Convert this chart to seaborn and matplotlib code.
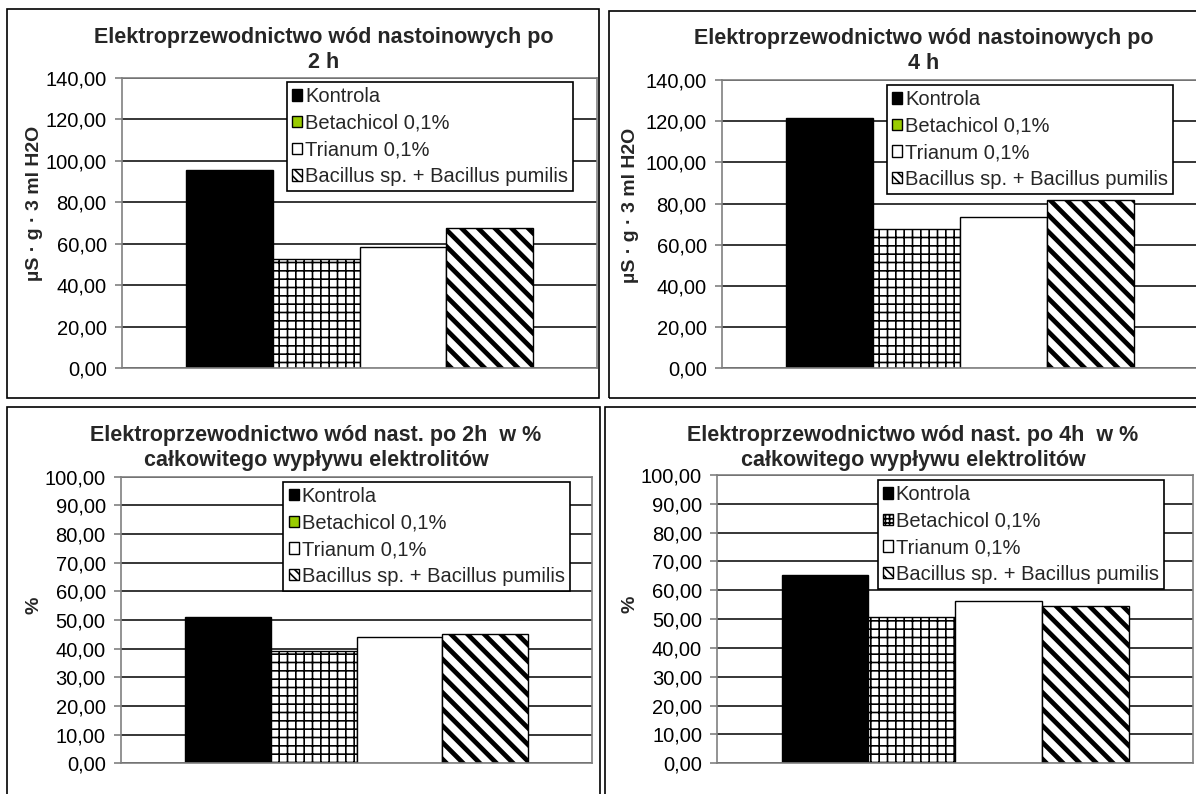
import pandas as pd
import matplotlib
matplotlib.use('Agg')
import matplotlib.pyplot as plt
import seaborn as sns
from matplotlib.patches import Patch, Rectangle
from matplotlib.ticker import FuncFormatter, MultipleLocator

# dane
warianty = ['Kontrola', 'Betachicol 0,1%', 'Trianum 0,1%', 'Bacillus sp. + Bacillus pumilis']
ec_2h = [95.5, 52.5, 58.5, 67.5]
ec_4h = [121.5, 67.5, 73.5, 81.5]
proc_2h = [51.0, 39.2, 43.9, 45.0]
proc_4h = [65.3, 50.7, 56.3, 54.5]

tytuly = ['Elektroprzewodnictwo wód nastoinowych po\n2 h',
          'Elektroprzewodnictwo wód nastoinowych po\n4 h',
          'Elektroprzewodnictwo wód nast. po 2h  w %\ncałkowitego wypływu elektrolitów',
          'Elektroprzewodnictwo wód nast. po 4h  w %\ncałkowitego wypływu elektrolitów']
opisy_y = ['µS · g · 3 ml H2O', 'µS · g · 3 ml H2O', '%', '%']

sns.set_theme(style='white')
plt.rcParams['font.family'] = ['Liberation Sans', 'DejaVu Sans']
plt.rcParams['hatch.linewidth'] = 1.2

W, H = 1196, 794
fig = plt.figure(figsize=(W / 100, H / 100), dpi=100)
fig.patch.set_facecolor('white')

# ramki wykresów (piksele: x0, y0, x1, y1)
ramki = [(7, 9, 599, 398), (609, 11, 1200, 398), (7, 407, 600, 800), (605, 407, 1200, 800)]
for x0, y0, x1, y1 in ramki:
    fig.add_artist(Rectangle((x0 / W, 1 - y1 / H), (x1 - x0) / W, (y1 - y0) / H,
                             transform=fig.transFigure, fill=False, edgecolor='black', lw=1.2))

# pozycje obszarów wykresu (piksele: lewo, góra, prawo, dół)
obszary = [(122, 78, 597, 368), (722, 80, 1198, 368.3), (121, 476.7, 592, 763.3), (717.4, 475, 1193, 763.3)]
dane = [ec_2h, ec_4h, proc_2h, proc_4h]
ymax = [140, 140, 100, 100]
krok = [20, 20, 10, 10]
tytul_x = [324, 924, 316, 913]
tytul_y = [50, 51, 448, 448]
etykieta_xy = [(-0.184, 0.566), (-0.192, 0.566), (-0.184, 0.552), (-0.183, 0.553)]
legenda_xy = [(0.347, 0.986), (0.347, 0.983), (0.345, 0.982), (0.337, 0.983)]

kolory = ['black', 'white', 'white', 'white']
wzory = ['', '++', '', '\\\\']
grubosci = [1.0, 1.2, 1.0, 3.4]

fmt = FuncFormatter(lambda v, p: f'{v:.2f}'.replace('.', ','))
rozmiar = 14.5

for i in range(4):
    l, t, r, b = obszary[i]
    ax = fig.add_axes([l / W, 1 - b / H, (r - l) / W, (b - t) / H])
    df = pd.DataFrame({'grupa': [''] * 4, 'wariant': warianty, 'wartosc': dane[i]})
    sns.barplot(data=df, x='grupa', y='wartosc', hue='wariant', hue_order=warianty,
                palette=kolory, saturation=1, width=0.73, edgecolor='black',
                linewidth=1, legend=False, ax=ax)
    for cont, wz, gr in zip(ax.containers, wzory, grubosci):
        for bar in cont:
            bar.set_hatch(wz)
            if hasattr(bar, 'set_hatch_linewidth'):
                bar.set_hatch_linewidth(gr)

    ax.set_xlim(-0.5, 0.5)
    ax.set_ylim(0, ymax[i])
    ax.yaxis.set_major_locator(MultipleLocator(krok[i]))
    ax.yaxis.set_major_formatter(fmt)
    ax.grid(axis='y', color='black', lw=1.1)
    ax.set_axisbelow(True)
    for s in ax.spines.values():
        s.set_color('#808080')
        s.set_linewidth(1.2)
    ax.tick_params(axis='y', left=True, length=5, width=1.2, color='#808080',
                   labelsize=rozmiar, pad=6, labelcolor='black')
    ax.tick_params(axis='x', bottom=False, labelbottom=False)
    ax.set_xlabel('')
    ax.set_ylabel(opisy_y[i], fontsize=14, fontweight='bold')
    ax.yaxis.label.set_va('center')
    ax.yaxis.set_label_coords(*etykieta_xy[i])

    fig.text(tytul_x[i] / W, 1 - tytul_y[i] / H, tytuly[i], ha='center', va='center',
             fontsize=15.5, fontweight='bold', linespacing=1.3, transform=fig.transFigure)

    # legenda
    kolor_b = 'white' if i == 3 else '#99cc00'
    wzor_b = '++++' if i == 3 else ''
    uchwyty = [Patch(facecolor='black', edgecolor='black'),
               Patch(facecolor=kolor_b, edgecolor='black', hatch=wzor_b),
               Patch(facecolor='white', edgecolor='black'),
               Patch(facecolor='white', edgecolor='black', hatch='\\\\\\\\')]
    leg = ax.legend(uchwyty, warianty, loc='upper left', bbox_to_anchor=legenda_xy[i],
                    borderaxespad=0, fontsize=rozmiar, frameon=True, fancybox=False,
                    edgecolor='black', framealpha=1, handlelength=0.5, handleheight=0.5,
                    handletextpad=0.15, labelspacing=0.38, borderpad=0.25)
    leg.get_frame().set_linewidth(1.2)

plt.savefig('out.png', dpi=100)
